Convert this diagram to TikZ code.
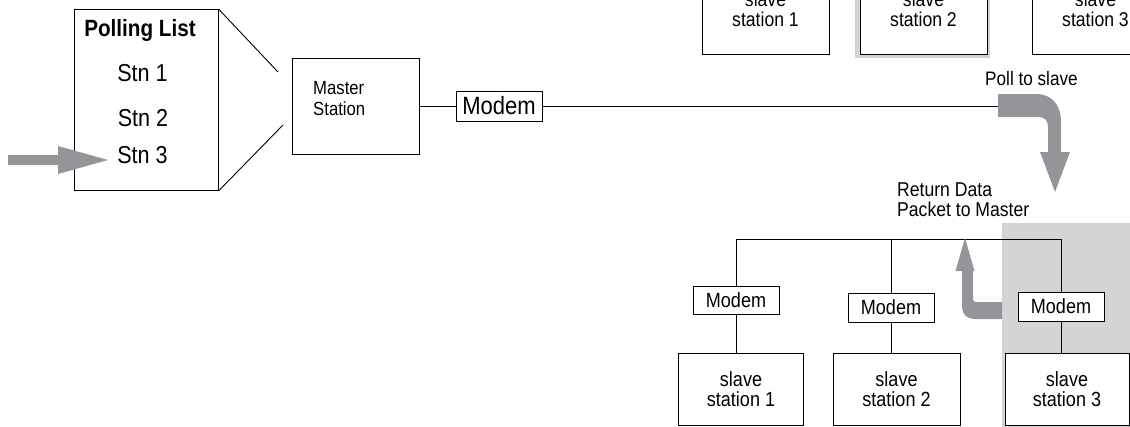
\documentclass[tikz,border=0pt]{standalone}
\usepackage{fontspec}
\setmainfont{Liberation Sans}[FakeStretch=0.88]
\definecolor{arrowgray}{HTML}{939598}
\definecolor{zonegray}{HTML}{D3D4D6}
\newcommand{\fs}[1]{\fontsize{#1}{20}\selectfont}
\begin{document}
\begin{tikzpicture}[x=1pt,y=-1pt,
  box/.style={draw=black, line width=1pt, fill=white, inner sep=0pt},
  wire/.style={draw=black, line width=0.9pt},
  txt/.style={inner sep=0pt, anchor=base},
  bigarrow/.style={fill=arrowgray, draw=none}]
\useasboundingbox (0,0) rectangle (1130,426);
\clip (0,0) rectangle (1130,426);

% highlighted area around the polled slave
\fill[zonegray] (1002,223) rectangle (1140,440);
\fill[zonegray] (855,-40) rectangle (989.5,57.5);

% polling list
\node[box, minimum width=144pt, minimum height=181pt] (poll) at (146,100) {};
\node[txt, font=\bfseries\fs{23.5}] (title) at (140,36.7) {Polling List};
\node[txt, font=\fs{24.5}] (stn1) at (142.5,81.7) {Stn 1};
\node[txt, font=\fs{24.5}] (stn2) at (143,126.7) {Stn 2};
\node[txt, font=\fs{24.5}] (stn3) at (142.5,163) {Stn 3};
\fill[bigarrow] (8,155) -- (58,155) -- (58,146) -- (108,160) -- (58,174) -- (58,165) -- (8,165) -- cycle;

% master side
\node[box, minimum width=127pt, minimum height=96pt] (master) at (355.5,106) {};
\node[inner sep=0pt, anchor=north west, align=left, font=\fontsize{19}{21}\selectfont] (mastertext) at (313,81.7) {Master\\Station};
\coordinate (zt) at (278,72);
\coordinate (zb) at (283,125);
\draw[wire] (poll.north east) -- (zt);
\draw[wire] (poll.south east) -- (zb);
\node[box, minimum width=86pt, minimum height=30pt, font=\fs{25}] (modem0) at (499,106) {Modem};
\coordinate (pollstart) at (998,106);
\draw[wire] (master.east) -- (modem0.west);
\draw[wire] (modem0.east) -- (pollstart);

% poll arrow
\node[txt, anchor=base west, font=\fs{19.5}] (polltxt) at (985,85) {Poll to slave};
\fill[bigarrow] (998,94) -- (1036,94) .. controls (1052,94) and (1061,105) .. (1061,122)
  -- (1061,152) -- (1070,152) -- (1055,192) -- (1040,152) -- (1048,152) -- (1048,127)
  .. controls (1048,121) and (1045,117) .. (1039,117) -- (998,117) -- cycle;

% slave stations (upper row)
\node[box, minimum width=127pt, minimum height=90pt, align=center, font=\fs{20}] (top1) at (765.5,9) {slave\\station 1};
\node[box, minimum width=127pt, minimum height=90pt, align=center, font=\fs{20}] (top2) at (923.5,9) {slave\\station 2};
\node[box, minimum width=127pt, minimum height=90pt, align=center, font=\fs{20}] (top3) at (1095.5,9) {slave\\station 3};

% return arrow
\node[inner sep=0pt, anchor=north west, align=left, font=\fs{20}] (rettxt) at (897,183) {Return Data\\Packet to Master};

% slave stations (lower row)
\coordinate (bus1) at (736,239);
\coordinate (bus2) at (891,239);
\coordinate (bus3) at (1061,239);
\draw[wire] (bus1) -- (bus3);
\node[box, minimum width=86pt, minimum height=28pt, font=\fs{20.5}] (m1) at (736,300) {Modem};
\node[box, minimum width=86pt, minimum height=29pt, font=\fs{20.5}] (m2) at (891,307.5) {Modem};
\node[box, minimum width=86pt, minimum height=29pt, font=\fs{20.5}] (m3) at (1061,306.5) {Modem};
\node[box, minimum width=125pt, minimum height=72pt, align=center, font=\fs{20.5}] (s1) at (741,389) {slave\\station 1};
\node[box, minimum width=127pt, minimum height=72pt, align=center, font=\fs{20.5}] (s2) at (896.5,389) {slave\\station 2};
\node[box, minimum width=124pt, minimum height=72pt, align=center, font=\fs{20.5}] (s3) at (1067,389) {slave\\station 3};
\draw[wire] (bus1) -- (m1.north);
\draw[wire] (bus2) -- (m2.north);
\draw[wire] (bus3) -- (m3.north);
\draw[wire] (m1.south) -- (m1.south |- s1.north);
\draw[wire] (m2.south) -- (m2.south |- s2.north);
\draw[wire] (m3.south) -- (m3.south |- s3.north);

\fill[bigarrow] (1002,302) -- (976,302) .. controls (974,302) and (973,301) .. (973,299)
  -- (973,271) -- (974.5,271) -- (965,238) -- (955.5,271) -- (962,271) -- (962,305)
  .. controls (962,314) and (966,319) .. (976,319) -- (1002,319) -- cycle;
\end{tikzpicture}
\end{document}
